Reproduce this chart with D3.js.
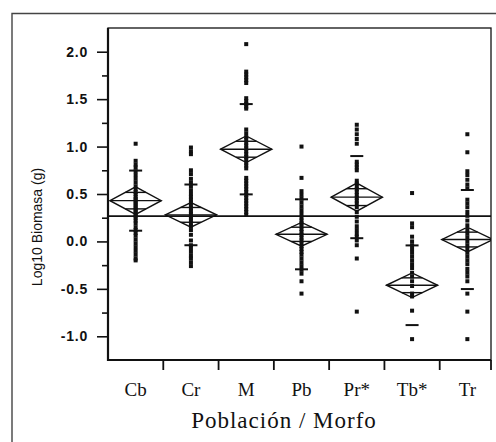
<!DOCTYPE html>
<html>
<head>
<meta charset="utf-8">
<script src="https://cdn.jsdelivr.net/npm/d3@7"></script>
<style>
  html, body { margin: 0; padding: 0; background: #fff; }
  svg { display: block; }
</style>
</head>
<body>
<svg id="chart" width="496" height="442"></svg>
<script>
// ---------------- data ----------------
const categories = ["Cb", "Cr", "M", "Pb", "Pr*", "Tb*", "Tr"];

const pointsCb = [1.03, 0.85, 0.81, 0.78, 0.74, 0.70, 0.66, 0.62, 0.58, 0.55, 0.52, 0.50, 0.47, 0.45, 0.43, 0.41, 0.39, 0.37, 0.35, 0.33, 0.31, 0.29, 0.27, 0.25, 0.22, 0.19, 0.15, 0.12, 0.09, 0.06, 0.02, -0.02, -0.06, -0.10, -0.14, -0.18, -0.20];
const pointsCr = [0.99, 0.95, 0.92, 0.75, 0.71, 0.66, 0.62, 0.58, 0.54, 0.50, 0.47, 0.44, 0.41, 0.38, 0.35, 0.32, 0.29, 0.27, 0.25, 0.22, 0.19, 0.16, 0.12, 0.07, 0.01, -0.04, -0.07, -0.11, -0.15, -0.18, -0.22, -0.26];
const pointsM = [2.08, 1.79, 1.76, 1.73, 1.70, 1.67, 1.51, 1.48, 1.45, 1.42, 1.40, 1.18, 1.14, 1.10, 1.07, 1.04, 1.01, 0.98, 0.95, 0.92, 0.89, 0.86, 0.83, 0.80, 0.77, 0.67, 0.64, 0.61, 0.58, 0.55, 0.52, 0.49, 0.46, 0.43, 0.40, 0.37, 0.34, 0.31, 0.28];
const pointsPb = [1.00, 0.67, 0.53, 0.49, 0.45, 0.41, 0.37, 0.33, 0.29, 0.25, 0.22, 0.19, 0.16, 0.13, 0.10, 0.07, 0.04, 0.01, -0.02, -0.05, -0.08, -0.11, -0.14, -0.18, -0.22, -0.26, -0.30, -0.34, -0.42, -0.55];
const pointsPr = [1.23, 1.18, 1.13, 1.08, 1.03, 0.84, 0.81, 0.78, 0.75, 0.64, 0.61, 0.58, 0.55, 0.52, 0.49, 0.46, 0.43, 0.40, 0.36, 0.31, 0.26, 0.21, 0.16, 0.12, 0.08, 0.05, 0.01, -0.04, -0.18, -0.74];
const pointsTb = [0.51, 0.19, 0.15, 0.05, 0.00, -0.04, -0.08, -0.12, -0.16, -0.20, -0.24, -0.28, -0.33, -0.37, -0.42, -0.47, -0.55, -0.58, -0.73, -1.03];
const pointsTr = [1.13, 0.94, 0.74, 0.70, 0.65, 0.60, 0.56, 0.44, 0.40, 0.36, 0.31, 0.27, 0.22, 0.17, 0.12, 0.08, 0.04, 0.00, -0.04, -0.08, -0.12, -0.16, -0.20, -0.24, -0.29, -0.33, -0.37, -0.42, -0.55, -0.74, -1.03];
const groupPoints = [pointsCb, pointsCr, pointsM, pointsPb, pointsPr, pointsTb, pointsTr];

const means  = [0.43, 0.28, 0.972, 0.075, 0.467, -0.462, 0.02];
const ciHalf = [0.145, 0.13, 0.14, 0.125, 0.148, 0.13, 0.13];
const stdDev = [0.317, 0.32, 0.476, 0.369, 0.433, 0.42, 0.522];
const grandMean = 0.267;

const yMajorTicks = [2.0, 1.5, 1.0, 0.5, 0.0, -0.5, -1.0];
const yTickLabels = ["2.0", "1.5", "1.0", "0.5", "0.0", "-0.5", "-1.0"];
const yMinorTicks = [1.75, 1.25, 0.75, 0.25, -0.25, -0.75];
const yDomain = [-1.25, 2.25];

const xTitle = "Población / Morfo";
const yTitle = "Log10 Biomasa (g)";

// ---------------- layout ----------------
const svg = d3.select("#chart");
const L = 108, R = 491, T = 28, B = 360;

const x = d3.scaleBand().domain(categories).range([L, 495]).paddingInner(0).paddingOuter(0);
const y = d3.scaleLinear().domain(yDomain).range([B, T]);
const cx = c => x(c) + x.bandwidth() / 2;

// outer frame (partial, scan edge)
svg.append("path")
  .attr("d", `M12,442 L12,13.5 L496,13.5`)
  .attr("fill", "none").attr("stroke", "#444").attr("stroke-width", 1.4);

svg.append("defs").append("clipPath").attr("id", "plotclip")
  .append("rect").attr("x", L).attr("y", T).attr("width", R - L).attr("height", B - T);

const plot = svg.append("g").attr("clip-path", "url(#plotclip)");

// grand mean line
plot.append("line")
  .attr("x1", L).attr("x2", R).attr("y1", y(grandMean)).attr("y2", y(grandMean))
  .attr("stroke", "#111").attr("stroke-width", 1.8);

// points
categories.forEach((c, i) => {
  plot.append("g").selectAll("rect").data(groupPoints[i]).join("rect")
    .attr("x", cx(c) - 2).attr("y", d => y(d) - 2)
    .attr("width", 4).attr("height", 4).attr("fill", "#111");
});

// std dev lines
categories.forEach((c, i) => {
  [means[i] + stdDev[i], means[i] - stdDev[i]].forEach(v => {
    plot.append("line")
      .attr("x1", cx(c) - 6.5).attr("x2", cx(c) + 6.5)
      .attr("y1", y(v)).attr("y2", y(v))
      .attr("stroke", "#111").attr("stroke-width", 2);
  });
});

// means diamonds
const ovl = 0.6;
categories.forEach((c, i) => {
  const xc = cx(c), hw = x.bandwidth() / 2 - 2;
  const m = means[i], h = ciHalf[i];
  const g = plot.append("g").attr("fill", "none").attr("stroke", "#111").attr("stroke-width", 1.4);
  g.append("path").attr("d",
    `M${xc - hw},${y(m)} L${xc},${y(m + h)} L${xc + hw},${y(m)} L${xc},${y(m - h)} Z`);
  g.append("line").attr("x1", xc - hw).attr("x2", xc + hw).attr("y1", y(m)).attr("y2", y(m));
  [m + ovl * h, m - ovl * h].forEach(v => {
    const w = hw * (1 - ovl);
    g.append("line").attr("x1", xc - w).attr("x2", xc + w).attr("y1", y(v)).attr("y2", y(v));
  });
});

// plot frame
svg.append("rect").attr("x", L).attr("y", T).attr("width", R - L).attr("height", B - T)
  .attr("fill", "none").attr("stroke", "#111").attr("stroke-width", 1.3);
svg.append("line").attr("x1", L).attr("x2", L).attr("y1", T).attr("y2", B + 1)
  .attr("stroke", "#111").attr("stroke-width", 2.2);
svg.append("line").attr("x1", L - 1).attr("x2", R).attr("y1", B).attr("y2", B)
  .attr("stroke", "#111").attr("stroke-width", 2.2);

// y axis major
const yAxis = svg.append("g").attr("transform", `translate(${L},0)`)
  .call(d3.axisLeft(y).tickValues(yMajorTicks).tickSize(11).tickPadding(9)
    .tickFormat((d, i) => yTickLabels[i]));
yAxis.select(".domain").remove();
yAxis.selectAll(".tick line").attr("stroke", "#111").attr("stroke-width", 1.6);
yAxis.selectAll(".tick text")
  .attr("font-family", "'Liberation Sans', Arial, sans-serif")
  .attr("font-weight", "bold").attr("font-size", 14).attr("letter-spacing", 0.8)
  .attr("fill", "#111");

// y axis minor
const yMinor = svg.append("g").attr("transform", `translate(${L},0)`)
  .call(d3.axisLeft(y).tickValues(yMinorTicks).tickSize(6).tickFormat(""));
yMinor.select(".domain").remove();
yMinor.selectAll(".tick line").attr("stroke", "#111").attr("stroke-width", 1.6);

// x axis boundary ticks
const boundaries = categories.slice(0, -1).map(c => x(c) + x.bandwidth()).concat([R]);
svg.append("g").selectAll("line").data(boundaries).join("line")
  .attr("x1", d => d).attr("x2", d => d).attr("y1", B).attr("y2", B + 10)
  .attr("stroke", "#111").attr("stroke-width", 1.8);

// x category labels
const xAxis = svg.append("g").attr("transform", `translate(0,${B})`)
  .call(d3.axisBottom(x).tickSize(0).tickPadding(0));
xAxis.select(".domain").remove();
xAxis.selectAll(".tick text")
  .attr("y", 35.5).attr("dy", 0)
  .attr("font-family", "'Liberation Serif', 'Times New Roman', serif")
  .attr("font-size", 19).attr("fill", "#111");

// titles
svg.append("text").text(xTitle)
  .attr("x", 284).attr("y", 428).attr("text-anchor", "middle")
  .attr("font-family", "'Liberation Serif', 'Times New Roman', serif")
  .attr("font-size", 23).attr("letter-spacing", 1).attr("fill", "#111");

svg.append("text").text(yTitle)
  .attr("transform", "translate(42,227) rotate(-90)")
  .attr("text-anchor", "middle")
  .attr("font-family", "'Liberation Sans', Arial, sans-serif")
  .attr("font-size", 14).attr("fill", "#111");
</script>
</body>
</html>
